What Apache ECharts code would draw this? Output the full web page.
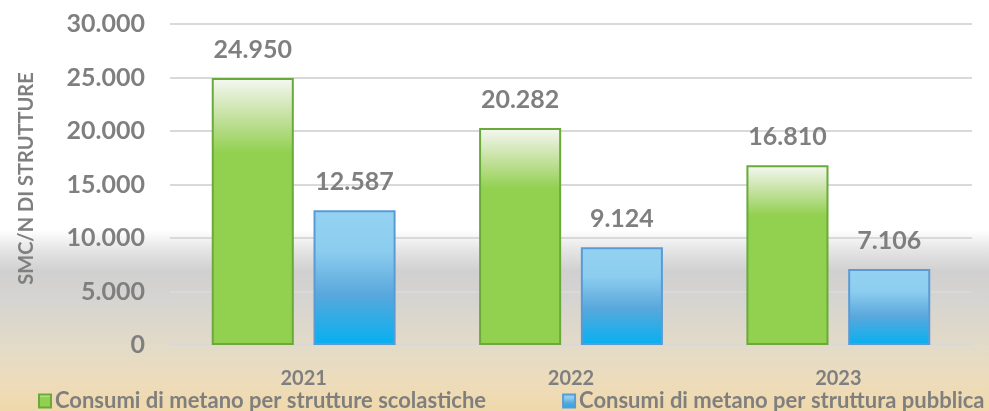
<!DOCTYPE html>
<html>
<head>
<meta charset="utf-8">
<script src="https://cdn.jsdelivr.net/npm/echarts@6/dist/echarts.min.js"></script>
<style>
  html, body { margin: 0; padding: 0; }
  #main { width: 989px; height: 411px; }
</style>
</head>
<body>
<div id="main"></div>
<script>
var anni = ['2021', '2022', '2023'];
var scolastiche = [24950, 20282, 16810];
var pubbliche = [12587, 9124, 7106];
var nomi = ['Consumi di metano per strutture scolastiche', 'Consumi di metano per struttura pubblica'];

var chartDom = document.getElementById('main');
var myChart = echarts.init(chartDom);

var grigio = '#7f7f7f';
var font = 'Lato, "Open Sans", sans-serif';

// numeri all'italiana: 24950 -> 24.950
function fmt(v) {
  return String(v).replace(/\B(?=(\d{3})+(?!\d))/g, '.');
}

var verde = new echarts.graphic.LinearGradient(0, 0, 0, 1, [
  { offset: 0, color: '#f6f8f4' },
  { offset: 0.14, color: '#c6e2a2' },
  { offset: 0.28, color: '#92d050' },
  { offset: 1, color: '#92d050' }
]);
var azzurro = new echarts.graphic.LinearGradient(0, 0, 0, 1, [
  { offset: 0, color: '#94d2f1' },
  { offset: 0.3, color: '#8ccdef' },
  { offset: 0.62, color: '#5aa8dc' },
  { offset: 1, color: '#05b0f0' }
]);

var option = {
  backgroundColor: new echarts.graphic.LinearGradient(0, 0, 0, 1, [
    { offset: 0, color: '#ffffff' },
    { offset: 0.56, color: '#ffffff' },
    { offset: 0.61, color: '#e4e4e4' },
    { offset: 0.66, color: '#d0d0d0' },
    { offset: 0.74, color: '#d7d5d0' },
    { offset: 0.85, color: '#e4dbc7' },
    { offset: 0.93, color: '#eddcbb' },
    { offset: 1, color: '#f0d8aa' }
  ]),
  textStyle: { fontFamily: font },
  grid: {
    left: 170,
    right: 17,
    top: 24,
    bottom: 66
  },
  legend: {
    data: nomi,
    left: 38,
    bottom: -1,
    width: 951,
    padding: 0,
    itemWidth: 12,
    itemHeight: 13,
    itemGap: 76,
    icon: 'rect',
    textStyle: { color: grigio, fontSize: 22, fontWeight: 'bold', fontFamily: font, padding: [0, 0, 0, -1] }
  },
  xAxis: {
    type: 'category',
    data: anni,
    axisLine: { lineStyle: { color: '#d9d9d9', width: 2 } },
    axisTick: { show: false },
    axisLabel: { color: grigio, fontSize: 20, fontWeight: 'bold', margin: 24 }
  },
  yAxis: {
    type: 'value',
    min: 0,
    max: 30000,
    interval: 5000,
    name: 'SMC/N DI STRUTTURE',
    nameLocation: 'middle',
    nameRotate: 90,
    nameGap: 133,
    nameTextStyle: { color: grigio, fontSize: 20, fontWeight: 'bold', padding: [0, 0, 0, 12] },
    axisLine: { show: false },
    axisTick: { show: false },
    splitLine: { lineStyle: { color: '#d9d9d9', width: 2 } },
    axisLabel: {
      color: grigio,
      fontSize: 25,
      fontWeight: 'bold',
      margin: 25,
      formatter: function (v) { return fmt(v); }
    }
  },
  series: [
    {
      name: nomi[0],
      type: 'bar',
      data: scolastiche,
      barWidth: '30.7%',
      barGap: '24%',
      itemStyle: { color: verde, borderColor: '#6aaa3a', borderWidth: 2 },
      label: {
        show: true,
        position: 'top',
        distance: 16,
        color: grigio,
        fontSize: 25,
        fontWeight: 'bold',
        formatter: function (p) { return fmt(p.value); }
      }
    },
    {
      name: nomi[1],
      type: 'bar',
      data: pubbliche,
      barWidth: '30.7%',
      itemStyle: { color: azzurro, borderColor: '#5b9bd5', borderWidth: 2 },
      label: {
        show: true,
        position: 'top',
        distance: 16,
        color: grigio,
        fontSize: 25,
        fontWeight: 'bold',
        formatter: function (p) { return fmt(p.value); }
      }
    }
  ]
};

option && myChart.setOption(option);
</script>
</body>
</html>
